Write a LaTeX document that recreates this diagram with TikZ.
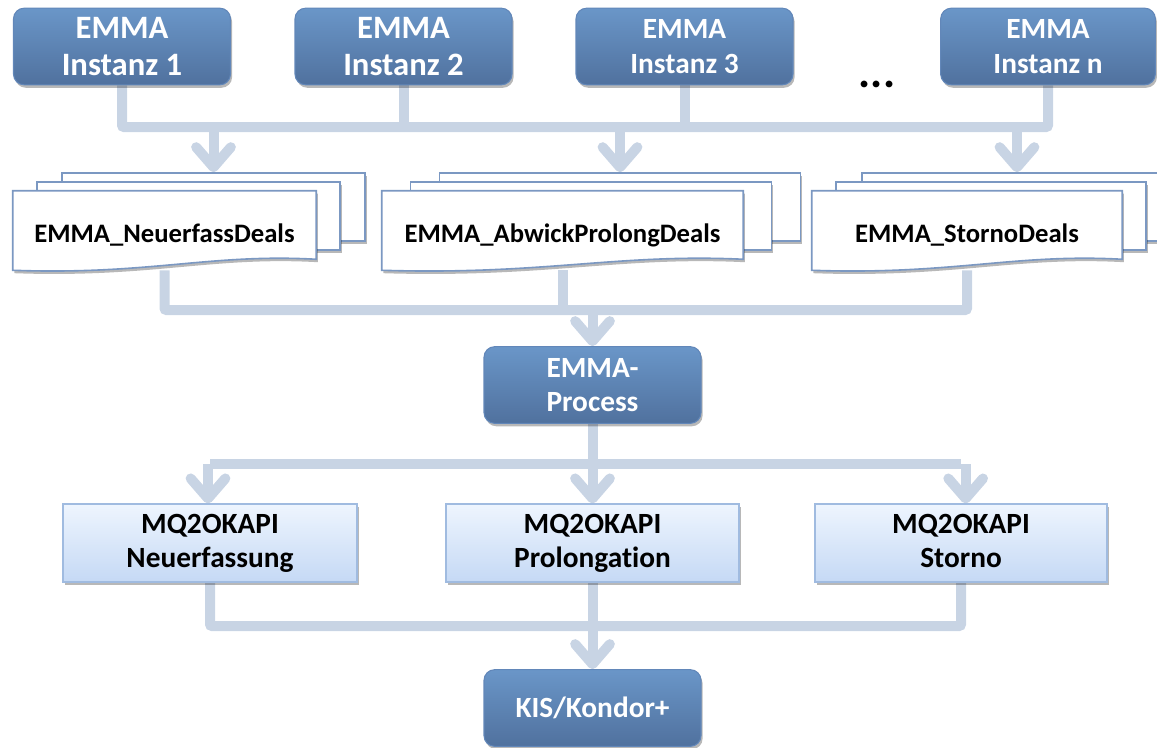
\documentclass[tikz,border=0pt]{standalone}
\usepackage{fontspec}
\setmainfont[Ligatures=NoCommon]{Carlito}
\usetikzlibrary{arrows.meta,shadows,calc}
\definecolor{connc}{RGB}{200,212,228}
\definecolor{dtop}{RGB}{106,150,200}
\definecolor{dbot}{RGB}{80,113,158}
\definecolor{dedge}{RGB}{98,135,185}
\definecolor{ltop}{RGB}{238,245,254}
\definecolor{lbot}{RGB}{197,217,245}
\definecolor{ledge}{RGB}{160,187,224}
\definecolor{docedge}{RGB}{123,152,194}
\pgfdeclarelayer{bg}
\pgfdeclarelayer{docs}
\pgfsetlayers{bg,docs,main}
\newcommand\doclbl[1]{\raisebox{-9pt}[0pt][0pt]{#1}}
\begin{document}
\begin{tikzpicture}[x=0.75pt,y=-0.75pt,
  shad/.style={drop shadow={shadow xshift=1.2pt,shadow yshift=-2.2pt,opacity=0.28,fill=black}},
  dark/.style={shad,rounded corners=8pt,top color=dtop,bottom color=dbot,draw=dedge,line width=0.8pt,
    text=white,font=\fontsize{24.5}{28}\selectfont\bfseries,align=center,inner sep=0pt,
    minimum width=162.75pt,minimum height=57.5pt},
  darks/.style={dark,font=\fontsize{22}{26.5}\selectfont\bfseries},
  light/.style={shad,top color=ltop,bottom color=lbot,draw=ledge,line width=0.8pt,
    text=black,font=\fontsize{22}{25.5}\selectfont\bfseries,align=center,inner sep=0pt,
    minimum height=58.5pt},
  doctext/.style={inner sep=0pt,font=\fontsize{20}{22}\selectfont\bfseries,minimum height=59.25pt},
  docrect/.style={shad,fill=white,draw=docedge,line width=1.2pt,inner sep=0pt,minimum height=51pt},
  docwave/.style={shad,fill=white,draw=docedge,line width=1.2pt},
  conn/.style={draw=connc,line width=7.5pt,rounded corners=1.5pt},
  arr/.style={draw=connc,line width=7.5pt,-{Straight Barb[length=15pt,width=26pt,round]}},
  dots/.style={font=\fontsize{34}{34}\selectfont\bfseries,inner sep=0pt}
]
\useasboundingbox (0,0) rectangle (1157,747);

% top instances
\node[dark] (b1) at (122,46.5) {EMMA\\Instanz 1};
\node[dark] (b2) at (403.5,46.5) {EMMA\\Instanz 2};
\node[darks] (b3) at (684.5,46.5) {EMMA\\Instanz 3};
\node[darks,minimum width=161pt] (bn) at (1048,46.5) {EMMA\\Instanz n};
\node[dots] (dd) at (877,84) {...};

% documents: front text nodes
\node[doctext,minimum width=227.25pt] (f1) at (164.5,230.5) {\doclbl{EMMA\_NeuerfassDeals}};
\node[doctext,minimum width=270.75pt] (f2) at (562.5,230.5) {\doclbl{EMMA\_AbwickProlongDeals}};
\node[doctext,minimum width=232.5pt] (f3) at (967,230.5) {\doclbl{EMMA\_StornoDeals}};

\begin{pgfonlayer}{docs}
  % stack 1
  \node[docrect,minimum width=227.25pt] (c1) at (213.5,207) {};
  \node[docrect,minimum width=227.25pt] (m1d) at (188.5,216) {};
  \path[docwave] (f1.north west) -- (f1.north east) -- ($(f1.south east)+(0,-11)$)
     .. controls ($(f1.south east)+(-106,-17)$) and ($(f1.south west)+(136,5)$) .. (f1.south west) -- cycle;
  % stack 2
  \node[docrect,minimum width=270.75pt] (c2) at (620,207) {};
  \node[docrect,minimum width=270.75pt] (m2d) at (591,216) {};
  \path[docwave] (f2.north west) -- (f2.north east) -- ($(f2.south east)+(0,-11)$)
     .. controls ($(f2.south east)+(-126,-17)$) and ($(f2.south west)+(162,5)$) .. (f2.south west) -- cycle;
  % stack 3
  \node[docrect,minimum width=232.5pt] (c3) at (1017,207) {};
  \node[docrect,minimum width=232.5pt] (m3d) at (991,216) {};
  \path[docwave] (f3.north west) -- (f3.north east) -- ($(f3.south east)+(0,-11)$)
     .. controls ($(f3.south east)+(-108,-17)$) and ($(f3.south west)+(140,5)$) .. (f3.south west) -- cycle;
\end{pgfonlayer}

% process
\node[dark,font=\fontsize{22}{26}\selectfont\bfseries] (proc) at (592.5,385) {EMMA-\\Process};

% MQ boxes
\node[light,minimum width=220.5pt] (q1) at (210,543) {MQ2OKAPI\\Neuerfassung};
\node[light,minimum width=219.75pt] (q2) at (592.5,543) {MQ2OKAPI\\Prolongation};
\node[light,minimum width=219pt] (q3) at (961,543) {MQ2OKAPI\\Storno\vphantom{g}};

% target
\node[dark,font=\fontsize{22}{26}\selectfont\bfseries] (kis) at (592.5,708) {KIS/Kondor+};

\coordinate (bus1) at (0,127);
\coordinate (bus2) at (0,310);
\coordinate (bus3) at (0,464);
\coordinate (bus4) at (0,626);

\begin{pgfonlayer}{bg}
  \draw[conn] (b1.south) -- (b1.south |- bus1) -- (bn.south |- bus1) -- (bn.south);
  \draw[conn] (b2.south) -- (b2.south |- bus1);
  \draw[conn] (b3.south) -- (b3.south |- bus1);
  \draw[arr] (c1.north |- bus1) -- (c1.north);
  \draw[arr] (c2.north |- bus1) -- (c2.north);
  \draw[arr] (c3.north |- bus1) -- (c3.north);

  \draw[conn] (f1.south) -- (f1.south |- bus2) -- (f3.south |- bus2) -- (f3.south);
  \draw[conn] (f2.south) -- (f2.south |- bus2);
  \draw[arr] (proc.north |- bus2) -- (proc.north);

  \draw[conn] (proc.south) -- (proc.south |- bus3);
  \draw[conn] (q1.north |- bus3) -- (q3.north |- bus3);
  \draw[arr] ([xshift=-1.5pt]q1.north |- bus3) -- ([xshift=-1.5pt]q1.north);
  \draw[arr] (q2.north |- bus3) -- (q2.north);
  \draw[arr] ([xshift=3.5pt]q3.north |- bus3) -- ([xshift=3.5pt]q3.north);

  \draw[conn] (q1.south) -- (q1.south |- bus4) -- (q3.south |- bus4) -- (q3.south);
  \draw[conn] (q2.south) -- (q2.south |- bus4);
  \draw[arr] (kis.north |- bus4) -- (kis.north);
\end{pgfonlayer}
\end{tikzpicture}
\end{document}
